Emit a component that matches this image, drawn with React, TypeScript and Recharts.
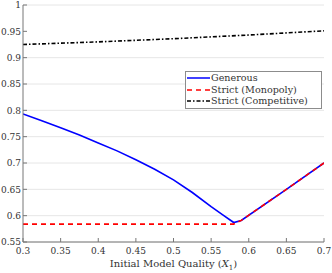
import { LineChart, Line, XAxis, YAxis, CartesianGrid, Legend } from 'recharts';

const xTicks = [0.3, 0.35, 0.4, 0.45, 0.5, 0.55, 0.6, 0.65, 0.7];
const yTicks = [0.55, 0.6, 0.65, 0.7, 0.75, 0.8, 0.85, 0.9, 0.95, 1];

const generousX = [0.3, 0.325, 0.35, 0.375, 0.4, 0.425, 0.45, 0.475, 0.5, 0.525, 0.55, 0.565, 0.58, 0.59, 0.65, 0.7];
const generousY = [0.793, 0.78, 0.767, 0.753, 0.738, 0.723, 0.706, 0.688, 0.668, 0.644, 0.617, 0.602, 0.587, 0.591, 0.65, 0.7];

const monopolyX = [0.3, 0.58, 0.59, 0.65, 0.7];
const monopolyY = [0.584, 0.584, 0.591, 0.65, 0.7];

const competitiveX = [0.3, 0.4, 0.5, 0.6, 0.7];
const competitiveY = [0.925, 0.93, 0.936, 0.943, 0.951];

const toRows = (xs: number[], ys: number[]) => xs.map((x, i) => ({ x, y: ys[i] }));

const generous = toRows(generousX, generousY);
const monopoly = toRows(monopolyX, monopolyY);
const competitive = toRows(competitiveX, competitiveY);

const FONT = "'DejaVu Serif', serif";
const fmt = (v: number) => String(v);

const legendItems = [
  { name: 'Generous', color: '#0000ff', dash: undefined },
  { name: 'Strict (Monopoly)', color: '#ff0000', dash: '5 4' },
  { name: 'Strict (Competitive)', color: '#000000', dash: '4 2 1.5 2' },
];

function LegendBox() {
  return (
    <div
      style={{
        width: 137,
        boxSizing: 'border-box',
        border: '1px solid #8c8c8c',
        background: '#fff',
        padding: '0px 2px 1px 1px',
        fontFamily: FONT,
        fontSize: 9.6,
        color: '#333',
        lineHeight: '11.5px',
      }}
    >
      {legendItems.map((it) => (
        <div key={it.name} style={{ display: 'flex', alignItems: 'center', whiteSpace: 'nowrap', height: 11.5 }}>
          <svg width={23} height={11.5} style={{ marginRight: 1 }}>
            <line x1={0} y1={6} x2={23} y2={6} stroke={it.color} strokeWidth={1.5} strokeDasharray={it.dash} />
          </svg>
          {it.name}
        </div>
      ))}
    </div>
  );
}

function XLabel(props: any) {
  const { x, y, width, height } = props.viewBox;
  return (
    <text x={x + width / 2} y={y + height - 6} textAnchor="middle" fontFamily={FONT} fontSize={10} fill="#333">
      Initial Model Quality (<tspan fontStyle="italic">X</tspan>
      <tspan fontSize={7} dy={3}>1</tspan>
      <tspan dy={-3}>)</tspan>
    </text>
  );
}

export default function App() {
  const tickStyle = { fill: '#333', fontSize: 9, fontFamily: FONT };
  return (
    <div style={{ width: 332, height: 273 }}>
      <style>{`body{margin:0}`}</style>
      <LineChart width={332} height={273} margin={{ top: 5, right: 8, left: 0, bottom: 0 }}>
        <CartesianGrid vertical={false} stroke="#e6e6e6" strokeWidth={1} yAxisId="left" xAxisId="bottom" />
        <XAxis
          xAxisId="bottom"
          type="number"
          dataKey="x"
          domain={[0.3, 0.7]}
          ticks={xTicks}
          tickFormatter={fmt}
          allowDataOverflow
          height={31}
          tick={tickStyle}
          tickSize={-4}
          tickMargin={10}
          stroke="#777"
          label={{ content: XLabel }}
        />
        <XAxis
          xAxisId="top"
          orientation="top"
          type="number"
          dataKey="x"
          domain={[0.3, 0.7]}
          ticks={xTicks}
          allowDataOverflow
          height={0}
          tick={false}
          tickSize={-4}
          stroke="#777"
        />
        <YAxis
          yAxisId="left"
          type="number"
          domain={[0.55, 1]}
          ticks={yTicks}
          tickFormatter={fmt}
          allowDataOverflow
          width={23}
          tick={tickStyle}
          tickSize={-4}
          tickMargin={6}
          stroke="#777"
        />
        <YAxis
          yAxisId="right"
          orientation="right"
          type="number"
          domain={[0.55, 1]}
          ticks={yTicks}
          allowDataOverflow
          width={0}
          tick={false}
          tickSize={-4}
          stroke="#777"
        />
        <Legend
          layout="vertical"
          align="center"
          verticalAlign="middle"
          content={<LegendBox />}
          wrapperStyle={{ left: 185, top: 71, width: 'auto' }}
        />
        <Line
          xAxisId="bottom"
          yAxisId="left"
          data={generous}
          dataKey="y"
          name="Generous"
          stroke="#0000ff"
          strokeWidth={1.6}
          dot={false}
          isAnimationActive={false}
        />
        <Line
          xAxisId="bottom"
          yAxisId="left"
          data={monopoly}
          dataKey="y"
          name="Strict (Monopoly)"
          stroke="#ff0000"
          strokeWidth={1.6}
          strokeDasharray="5 4"
          dot={false}
          isAnimationActive={false}
        />
        <Line
          xAxisId="bottom"
          yAxisId="left"
          data={competitive}
          dataKey="y"
          name="Strict (Competitive)"
          stroke="#000000"
          strokeWidth={1.6}
          strokeDasharray="4 2 1.5 2"
          dot={false}
          isAnimationActive={false}
        />
      </LineChart>
    </div>
  );
}
